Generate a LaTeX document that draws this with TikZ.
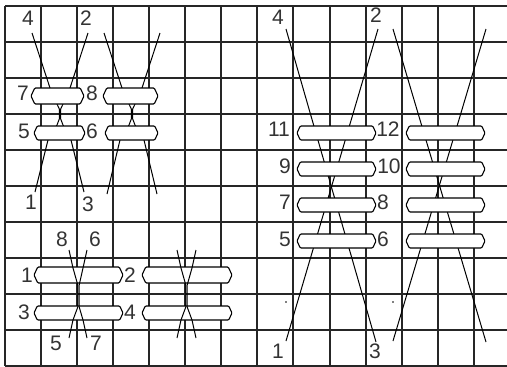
\documentclass[tikz,border=0pt]{standalone}
\usepackage{fontspec}
\setmainfont{Liberation Sans}
\usetikzlibrary{shapes.symbols}

\begin{document}
\begin{tikzpicture}[
  x=1pt,y=-1pt,
  gridline/.style={line width=1.1pt,black!85},
  strand/.style={line width=1pt},
  band/.style={draw,line width=1.1pt,fill=white,shape=signal,signal to=east and west,signal pointer angle=130,
    rounded corners=1pt,inner sep=0pt,minimum height=14pt},
  num/.style={inner sep=0pt,font=\fontsize{21}{21}\selectfont,black!80}
]
  \useasboundingbox (0,0) rectangle (507,367);
  % grid
  \foreach \gx in {5,41,77,113,149,185,221,257,293,330,366,402,438,474}
    \draw[gridline] (\gx,6) -- (\gx,366);
  \foreach \gy in {6,42,78,114,150,186,222,258,294,330,366}
    \draw[gridline] (5,\gy) -- (507,\gy);

  % top left
  \coordinate (a4) at (32,33);
  \coordinate (a2) at (88,33);
  \coordinate (a1) at (35,192);
  \coordinate (a3) at (84,192);
  \coordinate (b4) at (104,33);
  \coordinate (b2) at (160,33);
  \coordinate (b1) at (107,194);
  \coordinate (b3) at (157,194);
  \draw[strand] (a4) -- (50,88) -- (57,104) -- (59.3,109) -- (59.3,119) -- (57,125) -- (48,140) -- (a1);
  \draw[strand] (a2) -- (70,88) -- (63,104) -- (60.7,109) -- (60.7,119) -- (63,125) -- (71,140) -- (a3);
  \draw[strand] (b4) -- (122,88) -- (129,104) -- (131.3,109) -- (131.3,119) -- (129,125) -- (120,140) -- (b1);
  \draw[strand] (b2) -- (142,88) -- (135,104) -- (132.7,109) -- (132.7,119) -- (135,125) -- (144,140) -- (b3);
  \node[band,minimum width=53pt,minimum height=16pt] (a7) at (57.5,96) {};
  \node[band,minimum width=55pt,minimum height=16pt] (b7) at (130.5,96) {};
  \node[band,minimum width=51pt] (a5) at (59.5,133) {};
  \node[band,minimum width=53pt] (b5) at (131.5,133) {};

  % right
  \coordinate (c4) at (286,29);
  \coordinate (c2) at (378,29);
  \coordinate (c1) at (286,341);
  \coordinate (c3) at (376,342);
  \coordinate (d4) at (393,29);
  \coordinate (d2) at (486,29);
  \coordinate (d1) at (393,341);
  \coordinate (d3) at (486,342);
  \draw[strand] (c4) -- (c3);
  \draw[strand] (c2) -- (c1);
  \draw[strand] (d4) -- (d3);
  \draw[strand] (d2) -- (d1);
  \foreach \bn/\by in {11/133,9/169,7/205,5/241} {
    \node[band,minimum width=79pt] (c\bn) at (336.5,\by) {};
    \node[band,minimum width=79pt] (d\bn) at (445.5,\by) {};
  }
  \fill (286,302) circle (.8pt);
  \fill (393,302) circle (.8pt);

  % bottom left
  \node[band,minimum width=89pt,minimum height=16pt] (e1) at (78.5,275) {};
  \node[band,minimum width=90pt,minimum height=16pt] (f1) at (187,275) {};
  \node[band,minimum width=89pt] (e3) at (78.5,313) {};
  \node[band,minimum width=90pt] (f3) at (187,313) {};
  \coordinate (e8) at (69,250);
  \coordinate (e6) at (87,250);
  \coordinate (e5) at (69,338);
  \coordinate (e7) at (87,338);
  \coordinate (f8) at (177,250);
  \coordinate (f6) at (196,250);
  \coordinate (f5) at (177,338);
  \coordinate (f7) at (196,338);
  \draw[strand] (e8) -- (73,268) -- (77.8,285) -- (77.8,307) -- (73,320) -- (e5);
  \draw[strand] (e6) -- (83,268) -- (79.2,285) -- (79.2,307) -- (83,320) -- (e7);
  \draw[strand] (f8) -- (181,268) -- (185.8,285) -- (185.8,307) -- (181,320) -- (f5);
  \draw[strand] (f6) -- (192,268) -- (187.2,285) -- (187.2,307) -- (192,320) -- (f7);

  % numbers
  \node[num] (ta4) at (28,18) {4};
  \node[num] (ta2) at (86,18) {2};
  \node[num] (ta7) at (23,93) {7};
  \node[num] (ta8) at (92,93) {8};
  \node[num] (ta5) at (24,131) {5};
  \node[num] (ta6) at (92,131) {6};
  \node[num] (ta1) at (31,202) {1};
  \node[num] (ta3) at (88,204) {3};
  \node[num] (te8) at (62,239) {8};
  \node[num] (te6) at (95,239) {6};
  \node[num] (te1) at (27,275) {1};
  \node[num] (te2) at (130,275) {2};
  \node[num] (te3) at (24,312) {3};
  \node[num] (te4) at (130,312) {4};
  \node[num] (te5) at (56,343) {5};
  \node[num] (te7) at (96,343) {7};
  \node[num] (tc4) at (278,17) {4};
  \node[num] (tc2) at (376,15) {2};
  \node[num] (tc11) at (279,129) {11};
  \node[num] (tc12) at (388,129) {12};
  \node[num] (tc9) at (285,166) {9};
  \node[num] (tc10) at (389,166) {10};
  \node[num] (tc7) at (285,202) {7};
  \node[num] (tc8) at (383,202) {8};
  \node[num] (tc5) at (285,239) {5};
  \node[num] (tc6) at (383,239) {6};
  \node[num] (tc1) at (278,351) {1};
  \node[num] (tc3) at (375,351) {3};
\end{tikzpicture}
\end{document}
